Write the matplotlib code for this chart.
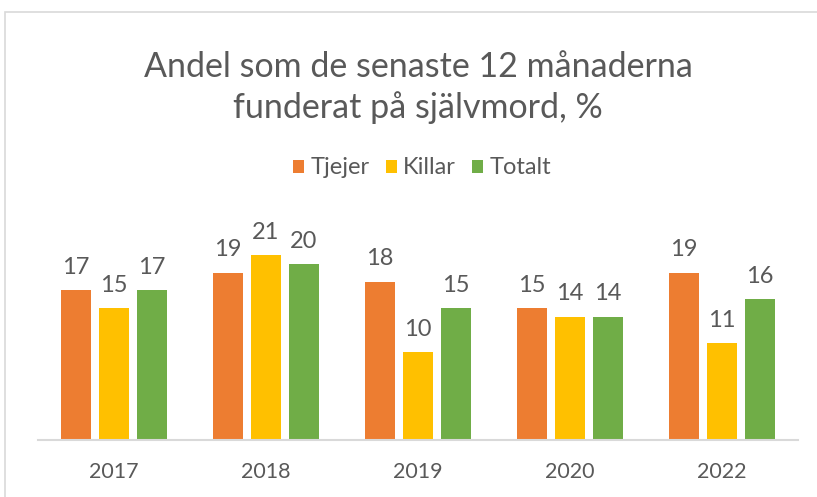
import matplotlib
matplotlib.use("Agg")
import matplotlib.pyplot as plt
import numpy as np
from matplotlib.patches import Rectangle

years = ["2017", "2018", "2019", "2020", "2022"]
series_names = ["Tjejer", "Killar", "Totalt"]
tjejer = [17, 19, 18, 15, 19]
killar = [15, 21, 10, 14, 11]
totalt = [17, 20, 15, 14, 16]
series_values = [tjejer, killar, totalt]
colors = ["#ED7D31", "#FFC000", "#70AD47"]
text_color = "#595959"
title_lines = ["Andel som de senaste 12 månaderna", "funderat på självmord, %"]

plt.rcParams["font.family"] = ["Lato", "DejaVu Sans"]

W, H = 817, 497
fig = plt.figure(figsize=(W / 100, H / 100), dpi=100)

# chart border
fig.patches.append(Rectangle((5 / W, -0.05), 1.1, (H - 12) / H + 0.05,
                             transform=fig.transFigure, fill=False,
                             edgecolor="#D9D9D9", linewidth=1.2))

ax = fig.add_axes([38 / W, (H - 440) / H, 760 / W, 220 / H])
x = np.arange(len(years))
bw = 0.2
step = 0.25
for i, (name, vals, c) in enumerate(zip(series_names, series_values, colors)):
    pos = x + (i - 1) * step
    ax.bar(pos, vals, width=bw, color=c, label=name)
    for p, v in zip(pos, vals):
        ax.annotate(str(v), (p, v), xytext=(0, 9), textcoords="offset points",
                    ha="center", va="bottom", fontsize=17, color=text_color)

ax.set_xlim(-0.5, len(years) - 0.5)
ax.set_ylim(0, 25)
ax.set_xticks(x)
ax.set_xticklabels(years, fontsize=15.5, color=text_color)
ax.tick_params(axis="x", length=0, pad=16)
ax.set_yticks([])
for s in ["top", "right", "left"]:
    ax.spines[s].set_visible(False)
ax.spines["bottom"].set_color("#D9D9D9")
ax.spines["bottom"].set_linewidth(1.5)

for line, base in zip(title_lines, [77, 118]):
    fig.text(418 / W, 1 - base / H, line, ha="center", va="baseline",
             fontsize=24.5, color=text_color)

handles, labels = ax.get_legend_handles_labels()
fig.legend(handles, labels, loc="center", bbox_to_anchor=(422 / W, 1 - 168 / H),
           ncol=3, frameon=False, fontsize=17, labelcolor=text_color,
           handlelength=0.47, handleheight=0.47, handletextpad=0.25,
           columnspacing=0.7, borderpad=0, borderaxespad=0)

fig.savefig("out.png", dpi=100)
